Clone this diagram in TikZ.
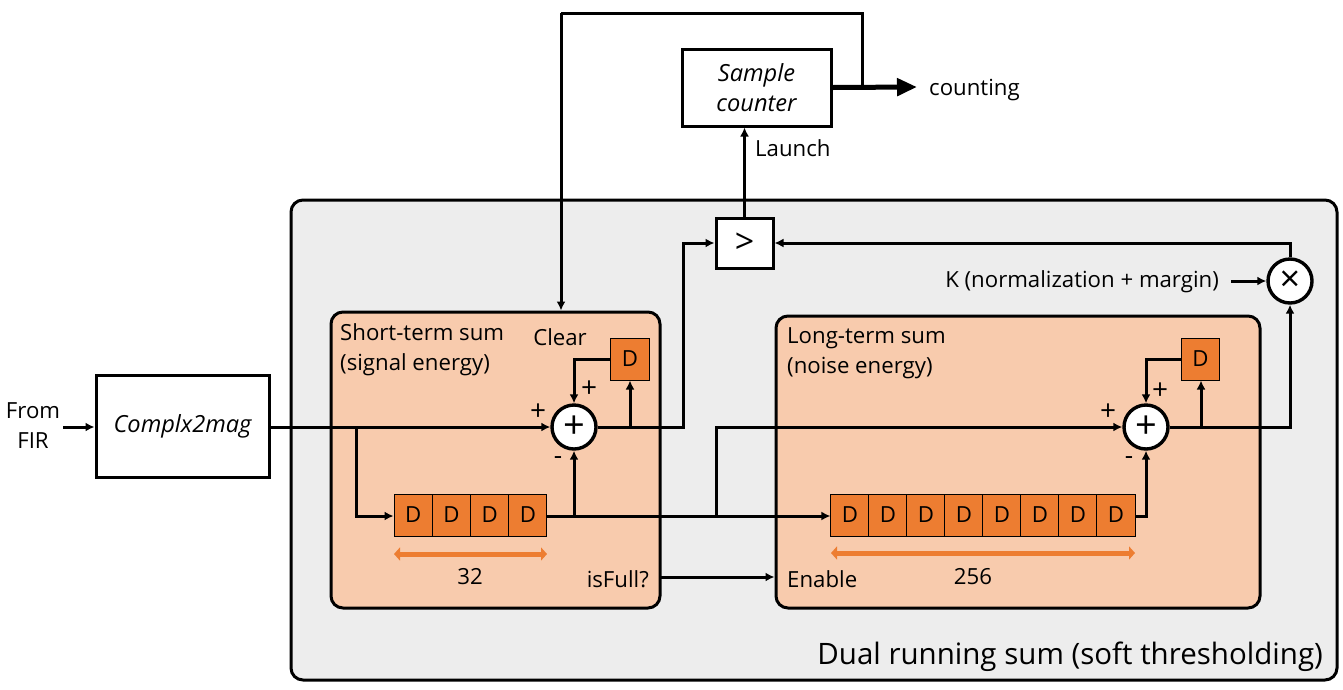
\documentclass[tikz,border=0pt]{standalone}
\usepackage{fontspec}
\setmainfont{Open Sans}
\usetikzlibrary{arrows.meta}

\definecolor{panelgray}{HTML}{EDEDED}
\definecolor{sumfill}{HTML}{F8CBAD}
\definecolor{delayfill}{HTML}{ED7D31}

\tikzset{
  wire/.style={line width=3pt, -{Latex[length=9pt,width=9pt]}},
  plainwire/.style={line width=3pt},
  block/.style={draw, line width=3pt, fill=white, inner sep=0, align=center},
  panel/.style={draw, line width=3pt, rounded corners=12pt},
  delay/.style={draw, line width=1pt, fill=delayfill, minimum width=38.2pt, minimum height=42pt, inner sep=0},
  opnode/.style={circle, draw, line width=3.4pt, fill=white, minimum size=44pt, inner sep=0},
  span/.style={delayfill, line width=5pt, {Triangle[length=6pt,width=13pt]}-{Triangle[length=6pt,width=13pt]}},
  txt/.style={inner sep=0, align=center},
  slanted/.style={font=\fontsize{23.6}{30}\selectfont\itshape}
}

\begin{document}
\begin{tikzpicture}[x=1pt, y=-1pt, font=\fontsize{22.2}{30}\selectfont]
      \useasboundingbox (0,0) rectangle (1343,689);

      \node[panel, fill=panelgray, minimum width=1046pt, minimum height=480pt] (dual) at (814,440) {};
      \node[panel, fill=sumfill, minimum width=329pt, minimum height=296pt] (short) at (495.5,460) {};
      \node[panel, fill=sumfill, minimum width=484pt, minimum height=292pt] (long) at (1018,462) {};

      \node[block, slanted, minimum width=173pt, minimum height=102pt] (mag) at (182.5,426) {Complx2mag};
      \node[block, slanted, minimum width=149pt, minimum height=77pt] (counter) at (756.5,87.5) {Sample\\ counter};
      \node[block, minimum width=57pt, minimum height=50pt, font=\fontsize{34}{36}\selectfont] (cmp) at (744.5,243) {>};

      \node[opnode, font=\fontsize{38}{38}\selectfont] (sumA) at (574,427) {+};
      \node[opnode, font=\fontsize{38}{38}\selectfont] (sumB) at (1146,427) {+};
      \node[opnode, font=\fontsize{36}{36}\selectfont] (mult) at (1290,281) {×};

      \node[delay] (delayA) at (630,359) {D};
      \node[delay] (delayB) at (1200.5,359) {D};
      \foreach \i in {1,...,4}
        \node[delay] (regA\i) at ({394+(\i-0.5)*38.25},515) {D};
      \foreach \i in {1,...,8}
        \node[delay] (regB\i) at ({831+(\i-0.5)*38},515) {D};

      % labels
      \node[txt] (from) at (33,426) {From\\ FIR};
      \node[txt, anchor=west] (counting) at (929,90) {counting};
      \node[txt, anchor=west] (launch) at (755,148) {Launch};
      \node[txt, anchor=east] (gain) at (1219,282) {K (normalization + margin)};
      \node[txt, anchor=west, align=left] (shortname) at (340,350) {Short-term sum\\ (signal energy)};
      \node[txt, anchor=west, align=left] (longname) at (787,353) {Long-term sum\\ (noise energy)};
      \node[txt] (clear) at (560,337) {Clear};
      \node[txt, anchor=east] (isfull) at (649,579) {isFull?};
      \node[txt, anchor=west] (enable) at (787,579) {Enable};
      \node[txt] (lenA) at (470,577) {32};
      \node[txt] (lenB) at (973,577) {256};
      \node[txt, anchor=east, font=\fontsize{29.5}{30}\selectfont] (dualname) at (1323,657) {Dual running sum (soft thresholding)};
      \node[txt, font=\fontsize{28}{28}\selectfont] (pa1) at (538,412) {+};
      \node[txt, font=\fontsize{28}{28}\selectfont] (pa2) at (589,389) {+};
      \node[txt, font=\fontsize{26}{26}\selectfont] (ma) at (558,461) {-};
      \node[txt, font=\fontsize{28}{28}\selectfont] (pb1) at (1108,412) {+};
      \node[txt, font=\fontsize{28}{28}\selectfont] (pb2) at (1160,391) {+};
      \node[txt, font=\fontsize{26}{26}\selectfont] (mb) at (1129,461) {-};

      % branch points
      \coordinate (fromend) at (63,427);
      \coordinate (b1) at (356,427);
      \coordinate (b2) at (630,427);
      \coordinate (b3) at (574,516);
      \coordinate (b4) at (716,516);
      \coordinate (b5) at (1201,427);
      \coordinate (b6) at (862,87);
      \coordinate (r1) at (683,427);
      \coordinate (r2) at (1290,427);
      \coordinate (k1) at (1231,281);
      \coordinate (t1) at (561,13);
      \coordinate (f1) at (660,577);
      \coordinate (sa) at (394,554);
      \coordinate (sb) at (831,553);

      \draw[wire] (fromend) -- (mag.west |- fromend);
      \draw[wire] (mag.east |- b1) -- (sumA.west);
      \draw[wire] (b1) |- (regA1.west |- b3);
      \draw[wire] (sumA.east) -- (r1) |- (cmp.west);
      \draw[wire] (b2) -- (delayA.south);
      \draw[wire] (delayA.west) -| (sumA.north);
      \draw[plainwire] (regA4.east |- b3) -- (b3);
      \draw[wire] (b3) -- (sumA.south);
      \draw[wire] (b3) -- (regB1.west |- b3);
      \draw[wire] (b4) |- (sumB.west);
      \draw[wire] (regB8.east |- b3) -| (sumB.south);
      \draw[wire] (sumB.east) -- (r2) -- (mult.south);
      \draw[wire] (b5) -- (b5 |- delayB.south);
      \draw[wire] (delayB.west) -| (sumB.north);
      \draw[wire] (mult.north) |- (cmp.east);
      \draw[wire] (k1) -- (mult.west);
      \draw[wire] (cmp.north) -- (cmp.north |- counter.south);
      \draw[wire] (f1) -- (f1 -| long.west);
      \draw[plainwire] (b6) |- (t1);
      \draw[wire] (t1) -- (t1 |- short.north);
      \draw[line width=5pt, -{Triangle[length=20pt,width=17pt]}] (counter.east) -- (917,87);

      \draw[span] (sa) -- ++(153,0);
      \draw[span] (sb) -- ++(304,0);
    \end{tikzpicture}
\end{document}
